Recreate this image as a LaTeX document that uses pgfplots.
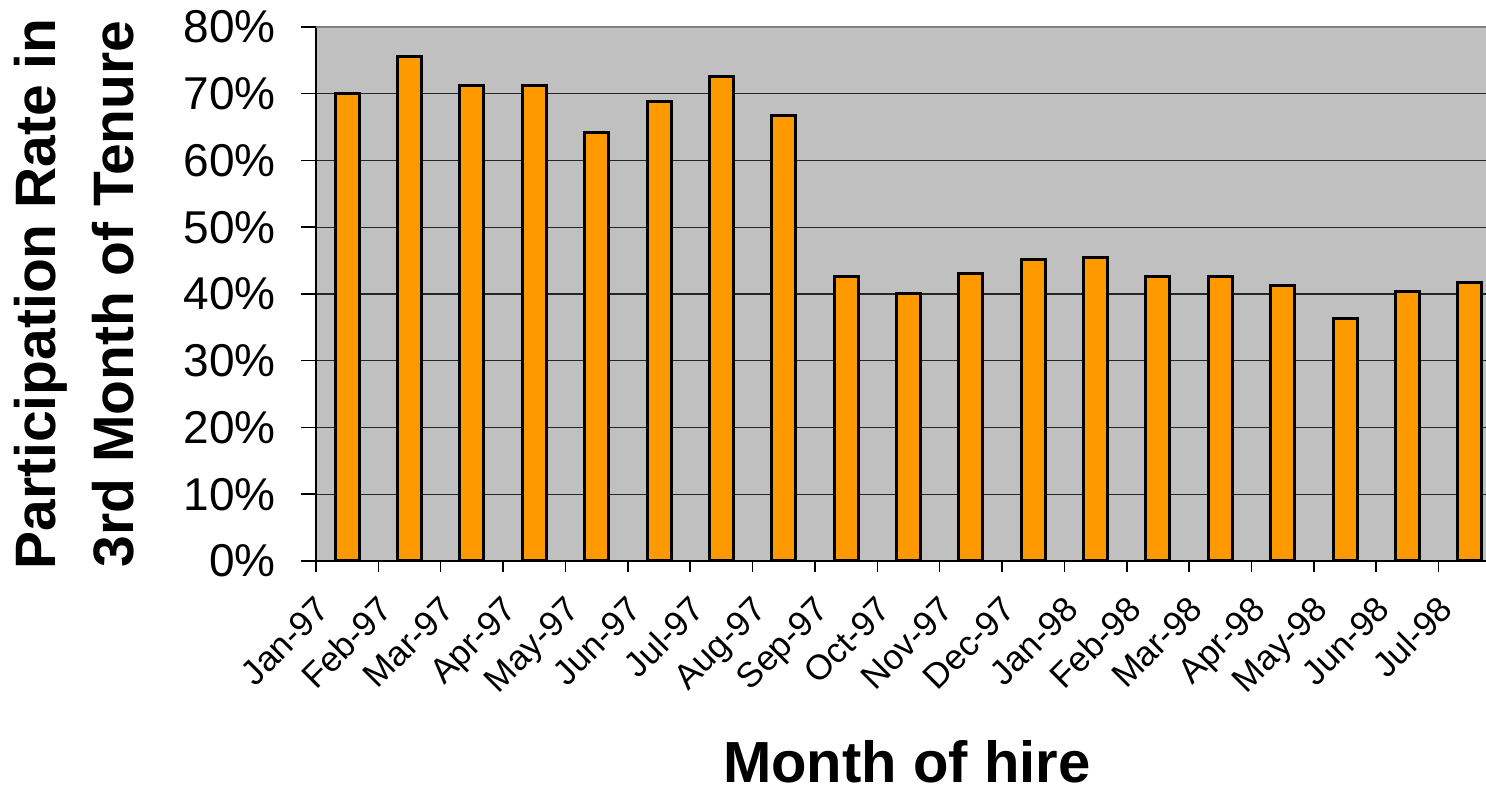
\documentclass[border=0pt]{standalone}
\usepackage{fontspec}
\setmainfont{Liberation Sans}
\usepackage{pgfplots}
\pgfplotsset{compat=1.18}
\usepackage{pgfplotstable}

\definecolor{plotbg}{HTML}{C0C0C0}
\definecolor{barfill}{HTML}{FF9900}
\definecolor{frame}{HTML}{808080}

% participation rate (%) by month of hire, index 0 = Jan-97
\pgfplotstableread{
idx rate
0  70.0
1  75.6
2  71.3
3  71.3
4  64.2
5  68.8
6  72.6
7  66.7
8  42.6
9  40.1
10 43.0
11 45.1
12 45.5
13 42.6
14 42.6
15 41.3
16 36.3
17 40.4
18 41.7
}\ratetable

\begin{document}
\begin{tikzpicture}
\begin{axis}[
  at={(0,0)}, anchor=south west,
  scale only axis,
  width=1170pt, height=534pt,
  xmin=-0.5, xmax=18.26,
  ymin=0, ymax=80,
  axis lines*=left,
  axis line style={line width=2pt, black},
  axis background/.style={fill=plotbg},
  ymajorgrids,
  major grid style={line width=1.3pt, black!85},
  ytick={0,10,...,80},
  yticklabels={0\%,10\%,20\%,30\%,40\%,50\%,60\%,70\%,80\%},
  xtick={0,...,18},
  xticklabels={Jan-97,Feb-97,Mar-97,Apr-97,May-97,Jun-97,Jul-97,Aug-97,Sep-97,Oct-97,Nov-97,Dec-97,Jan-98,Feb-98,Mar-98,Apr-98,May-98,Jun-98,Jul-98},
  minor xtick={-0.5,0.5,...,17.5},
  tick align=outside,
  x tick style={draw=none},
  minor x tick style={draw=black, line width=1.5pt},
  minor tick length=11pt,
  y tick style={line width=1.5pt, black},
  major tick length=15pt,
  yticklabel style={font=\fontsize{46}{46}\selectfont, inner sep=0pt, xshift=-25pt},
  xticklabel style={font=\fontsize{35}{35}\selectfont, inner sep=0pt,
    xshift=-33pt, yshift=-18pt, rotate=45, anchor=north east},
  xlabel={Month of hire},
  xlabel style={font=\bfseries\fontsize{58}{58}\selectfont, inner sep=0pt,
    text depth=0pt, at={(axis description cs:0.505,-0.4157)}, anchor=base},
  ylabel={Participation Rate in\\3rd Month of Tenure},
  ylabel style={font=\bfseries\fontsize{57}{78}\selectfont, align=center,
    at={(axis description cs:-0.152,0.5)}, anchor=south, rotate=0},
  clip=false,
]
\addplot[ybar, bar width=24pt, fill=barfill, draw=black, line width=3pt]
  table[x=idx, y=rate]{\ratetable};
\draw[frame, line width=2.5pt] (rel axis cs:0,1) -- (rel axis cs:1,1);
\end{axis}
\pgfresetboundingbox
\path[use as bounding box] (-316pt,-230pt) rectangle (1170pt,561pt);
\end{tikzpicture}
\end{document}
